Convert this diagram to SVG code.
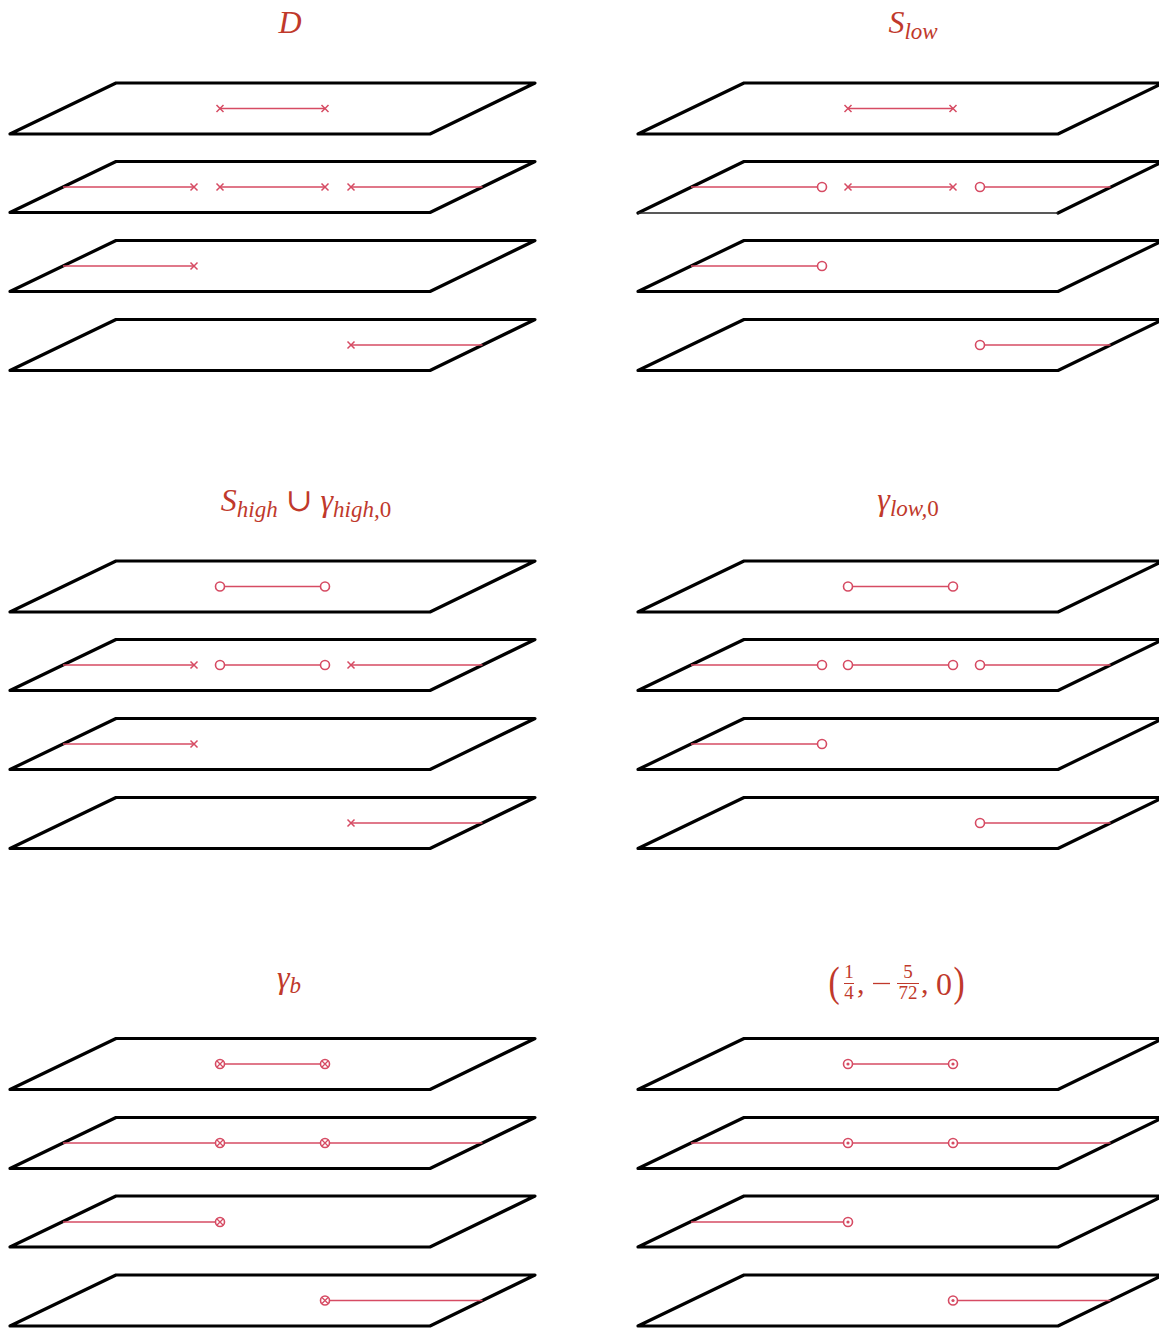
<svg xmlns="http://www.w3.org/2000/svg" xmlns:xlink="http://www.w3.org/1999/xlink" width="1159" height="1330" viewBox="0 0 1159 1330">
<style>
.sheet{fill:none;stroke:#000;stroke-width:3.2;stroke-linejoin:round;stroke-linecap:round}
.thin{fill:none;stroke:#222;stroke-width:1.6}
.cut{fill:none;stroke:#d64b63;stroke-width:1.5}
.t{fill:#c0392b;font-family:"Liberation Serif","DejaVu Serif",serif;font-style:italic}
.n{fill:#c0392b;font-family:"Liberation Serif","DejaVu Serif",serif;font-style:normal}
</style>
<defs>
<path id="sh" d="M0,51 L106,0 L525,0 L420,51 Z"/>
<g id="mx" fill="none" stroke="#d64b63" stroke-width="1.5"><path d="M-3.5,-3.5 L3.5,3.5 M-3.5,3.5 L3.5,-3.5"/></g>
<g id="mo"><circle r="4.5" fill="#fff" stroke="#d64b63" stroke-width="1.6"/></g>
<g id="mt"><circle r="4.5" fill="#fff" stroke="#d64b63" stroke-width="1.6"/><path d="M-3,-3 L3,3 M-3,3 L3,-3" stroke="#d64b63" stroke-width="1.3"/></g>
<g id="md"><circle r="4.5" fill="#fff" stroke="#d64b63" stroke-width="1.6"/><circle r="1.6" fill="#d64b63"/></g>
</defs>

<!-- Panel D -->
<g id="panel-D">
<text class="t" x="290" y="33" font-size="32" text-anchor="middle">D</text>
<g id="D-s1"><use href="#sh" class="sheet" x="10" y="83"/><path class="cut" d="M220,108.5 H325"/><use href="#mx" x="220" y="108.5"/><use href="#mx" x="325" y="108.5"/></g>
<g id="D-s2"><use href="#sh" class="sheet" x="10" y="161.5"/><path class="cut" d="M63,187 H194 M220,187 H325 M351,187 H482.5"/><use href="#mx" x="194" y="187"/><use href="#mx" x="220" y="187"/><use href="#mx" x="325" y="187"/><use href="#mx" x="351" y="187"/></g>
<g id="D-s3"><use href="#sh" class="sheet" x="10" y="240.5"/><path class="cut" d="M63,266 H194"/><use href="#mx" x="194" y="266"/></g>
<g id="D-s4"><use href="#sh" class="sheet" x="10" y="319.5"/><path class="cut" d="M351,345 H482.5"/><use href="#mx" x="351" y="345"/></g>
</g>

<!-- Panel S_low -->
<g id="panel-Slow">
<text class="t" x="913" y="33" font-size="32" text-anchor="middle">S<tspan font-size="23" dy="6">low</tspan></text>
<g id="Slow-s1"><use href="#sh" class="sheet" x="638" y="83"/><path class="cut" d="M848,108.5 H953"/><use href="#mx" x="848" y="108.5"/><use href="#mx" x="953" y="108.5"/></g>
<g id="Slow-s2"><path class="sheet" d="M638,213 L744,161.5 L1163,161.5 L1058,213"/><path class="thin" d="M638,213 H1058"/><path class="cut" d="M691,187 H822 M848,187 H953 M980,187 H1110.5"/><use href="#mo" x="822" y="187"/><use href="#mx" x="848" y="187"/><use href="#mx" x="953" y="187"/><use href="#mo" x="980" y="187"/></g>
<g id="Slow-s3"><use href="#sh" class="sheet" x="638" y="240.5"/><path class="cut" d="M691,266 H822"/><use href="#mo" x="822" y="266"/></g>
<g id="Slow-s4"><use href="#sh" class="sheet" x="638" y="319.5"/><path class="cut" d="M980,345 H1110.5"/><use href="#mo" x="980" y="345"/></g>
</g>

<!-- Panel S_high U gamma_high,0 -->
<g id="panel-Shigh">
<text class="t" x="306" y="511" font-size="32" text-anchor="middle">S<tspan font-size="23" dy="6">high</tspan><tspan class="n" font-size="32" dy="-6"> ∪ </tspan><tspan>γ</tspan><tspan font-size="23" dy="6">high,</tspan><tspan class="n" font-size="23">0</tspan></text>
<g id="Sh-s1"><use href="#sh" class="sheet" x="10" y="561"/><path class="cut" d="M220,586.5 H325"/><use href="#mo" x="220" y="586.5"/><use href="#mo" x="325" y="586.5"/></g>
<g id="Sh-s2"><use href="#sh" class="sheet" x="10" y="639.5"/><path class="cut" d="M63,665 H194 M220,665 H325 M351,665 H482.5"/><use href="#mx" x="194" y="665"/><use href="#mo" x="220" y="665"/><use href="#mo" x="325" y="665"/><use href="#mx" x="351" y="665"/></g>
<g id="Sh-s3"><use href="#sh" class="sheet" x="10" y="718.5"/><path class="cut" d="M63,744 H194"/><use href="#mx" x="194" y="744"/></g>
<g id="Sh-s4"><use href="#sh" class="sheet" x="10" y="797.5"/><path class="cut" d="M351,823 H482.5"/><use href="#mx" x="351" y="823"/></g>
</g>

<!-- Panel gamma_low,0 -->
<g id="panel-glow">
<text class="t" x="908" y="510" font-size="32" text-anchor="middle">γ<tspan font-size="23" dy="6">low,</tspan><tspan class="n" font-size="23">0</tspan></text>
<g id="gl-s1"><use href="#sh" class="sheet" x="638" y="561"/><path class="cut" d="M848,586.5 H953"/><use href="#mo" x="848" y="586.5"/><use href="#mo" x="953" y="586.5"/></g>
<g id="gl-s2"><use href="#sh" class="sheet" x="638" y="639.5"/><path class="cut" d="M691,665 H822 M848,665 H953 M980,665 H1110.5"/><use href="#mo" x="822" y="665"/><use href="#mo" x="848" y="665"/><use href="#mo" x="953" y="665"/><use href="#mo" x="980" y="665"/></g>
<g id="gl-s3"><use href="#sh" class="sheet" x="638" y="718.5"/><path class="cut" d="M691,744 H822"/><use href="#mo" x="822" y="744"/></g>
<g id="gl-s4"><use href="#sh" class="sheet" x="638" y="797.5"/><path class="cut" d="M980,823 H1110.5"/><use href="#mo" x="980" y="823"/></g>
</g>

<!-- Panel gamma_b -->
<g id="panel-gb">
<text class="t" x="289" y="988" font-size="32" text-anchor="middle">γ<tspan font-size="23" dy="5">b</tspan></text>
<g id="gb-s1"><use href="#sh" class="sheet" x="10" y="1038.5"/><path class="cut" d="M220,1064 H325"/><use href="#mt" x="220" y="1064"/><use href="#mt" x="325" y="1064"/></g>
<g id="gb-s2"><use href="#sh" class="sheet" x="10" y="1117.5"/><path class="cut" d="M63,1143 H482.5"/><use href="#mt" x="220" y="1143"/><use href="#mt" x="325" y="1143"/></g>
<g id="gb-s3"><use href="#sh" class="sheet" x="10" y="1196"/><path class="cut" d="M63,1222 H220"/><use href="#mt" x="220" y="1222"/></g>
<g id="gb-s4"><use href="#sh" class="sheet" x="10" y="1275"/><path class="cut" d="M325,1300.5 H482.5"/><use href="#mt" x="325" y="1300.5"/></g>
</g>

<!-- Panel point -->
<g id="panel-pt">
<g id="pt-label">
<text class="n" x="834" y="996" font-size="42" text-anchor="middle" transform="translate(834 996) scale(0.8 1) translate(-834 -996)">(</text>
<text class="n" x="849" y="978" font-size="19" text-anchor="middle">1</text>
<path d="M844,983.5 H854" stroke="#c0392b" stroke-width="1"/>
<text class="n" x="849" y="999" font-size="19" text-anchor="middle">4</text>
<text class="n" x="857" y="993" font-size="30">,</text>
<path d="M873,983.5 H890" stroke="#c0392b" stroke-width="1.3"/>
<text class="n" x="908" y="978" font-size="19" text-anchor="middle">5</text>
<path d="M897,983.5 H919" stroke="#c0392b" stroke-width="1"/>
<text class="n" x="908" y="999" font-size="19" text-anchor="middle">72</text>
<text class="n" x="921" y="993" font-size="30">,</text>
<text class="n" x="944" y="995" font-size="32" text-anchor="middle">0</text>
<text class="n" x="959" y="996" font-size="42" text-anchor="middle" transform="translate(959 996) scale(0.8 1) translate(-959 -996)">)</text>
</g>
<g id="pt-s1"><use href="#sh" class="sheet" x="638" y="1038.5"/><path class="cut" d="M848,1064 H953"/><use href="#md" x="848" y="1064"/><use href="#md" x="953" y="1064"/></g>
<g id="pt-s2"><use href="#sh" class="sheet" x="638" y="1117.5"/><path class="cut" d="M691,1143 H1110.5"/><use href="#md" x="848" y="1143"/><use href="#md" x="953" y="1143"/></g>
<g id="pt-s3"><use href="#sh" class="sheet" x="638" y="1196"/><path class="cut" d="M691,1222 H848"/><use href="#md" x="848" y="1222"/></g>
<g id="pt-s4"><use href="#sh" class="sheet" x="638" y="1275"/><path class="cut" d="M953,1300.5 H1110.5"/><use href="#md" x="953" y="1300.5"/></g>
</g>
</svg>
